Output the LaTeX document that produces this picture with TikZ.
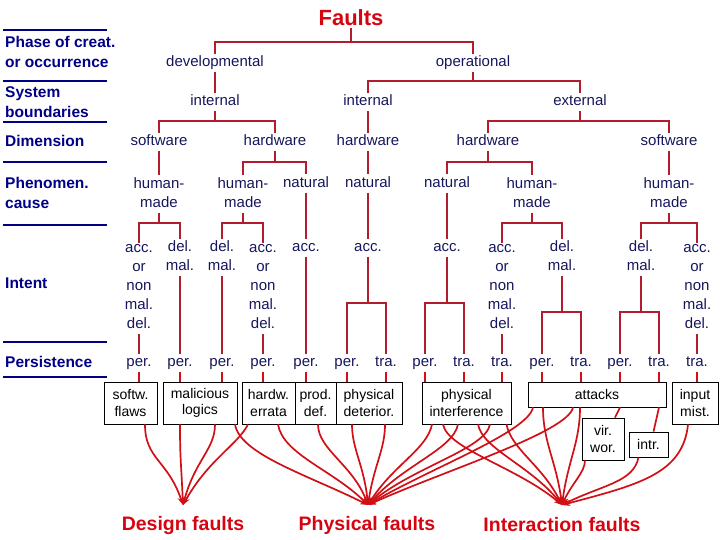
\documentclass[tikz,border=0pt]{standalone}
\usepackage{fontspec}
\setmainfont{Liberation Sans}
\usepackage{tikz}
\usetikzlibrary{arrows.meta,positioning,calc}

\definecolor{treered}{RGB}{178,28,44}
\definecolor{flowred}{RGB}{208,16,22}
\definecolor{headred}{RGB}{214,4,16}
\definecolor{labelink}{RGB}{22,22,92}
\definecolor{rowink}{RGB}{0,0,135}

% bracket from a parent down to two children, bar at height #4
\newcommand{\forkdown}[4]{%
  \draw[tree] (#1.south) -- (#1.south |- 0,#4);
  \draw[tree] (#2.north) |- (#3.north |- 0,#4) -- (#3.north);}

\begin{document}
\begin{tikzpicture}[
        x=1pt, y=-1pt,
        lvl/.style={font=\fontsize{15}{19}\selectfont, text=labelink, align=center, inner sep=2pt,
            execute at begin node={\rule{0pt}{11pt}}, execute at end node={\rule[-3.5pt]{0pt}{3.5pt}}},
        rowname/.style={anchor=west, align=left, inner sep=0pt, text=rowink,
            font=\fontsize{15.5}{20}\selectfont\bfseries},
        rowbar/.style={rowink, line width=2.6pt},
        tree/.style={treered, line width=1.2pt},
        classbox/.style={draw=black, fill=white, line width=0.8pt, align=center, inner sep=1pt,
            minimum height=42pt, font=\fontsize{14}{16.5}\selectfont},
        flow/.style={flowred, line width=1.7pt},
        flowarr/.style={flow, -{Stealth[length=8pt,width=6pt]}},
        head/.style={font=\fontsize{22}{24}\selectfont\bfseries, text=headred, inner sep=2pt},
        sinklabel/.style={font=\fontsize{19.5}{22}\selectfont\bfseries, text=headred, inner sep=2pt}
    ]
    \useasboundingbox (0,0) rectangle (720,540);

    % Row names on the left
    \foreach \yb in {30,81,122,162,225,342,377}
        \draw[rowbar] (3,\yb) -- (107,\yb);
    \node[rowname] (rphase) at (5,52) {Phase of creat.\\or occurrence};
    \node[rowname] (rsys) at (5,102.5) {System\\boundaries};
    \node[rowname] (rdim) at (5,141) {Dimension};
    \node[rowname] (rphen) at (5,192.5) {Phenomen.\\cause};
    \node[rowname] (rint) at (5,283) {Intent};
    \node[rowname] (rpers) at (5,362) {Persistence};

    % Tree
    \node[head] (faults) at (351,18) {Faults};
    \node[lvl] (dev) at (215,63) {developmental};
    \node[lvl] (oper) at (473,63) {operational};
    \forkdown{faults}{dev}{oper}{42}

    \node[lvl] (intdev) at (215,102) {internal};
    \node[lvl] (intop) at (368,102) {internal};
    \node[lvl] (extop) at (580,102) {external};
    \draw[tree] (dev) -- (intdev);
    \forkdown{oper}{intop}{extop}{81}

    \node[lvl] (swA) at (159,142) {software};
    \node[lvl] (hwA) at (275,142) {hardware};
    \node[lvl] (hwB) at (368,142) {hardware};
    \node[lvl] (hwC) at (488,142) {hardware};
    \node[lvl] (swB) at (669,142) {software};
    \forkdown{intdev}{swA}{hwA}{121}
    \draw[tree] (intop) -- (hwB);
    \forkdown{extop}{hwC}{swB}{121}

    \node[lvl, anchor=north] (hmA) at (159,175.5) {human-\\made};
    \node[lvl, anchor=north] (hmB) at (243,175.5) {human-\\made};
    \node[lvl, anchor=north] (natA) at (306,174.5) {natural};
    \node[lvl, anchor=north] (natB) at (368,174.5) {natural};
    \node[lvl, anchor=north] (natC) at (447,174.5) {natural};
    \node[lvl, anchor=north] (hmC) at (532,175.5) {human-\\made};
    \node[lvl, anchor=north] (hmD) at (669,175.5) {human-\\made};
    \draw[tree] (swA) -- (hmA);
    \forkdown{hwA}{hmB}{natA}{162}
    \draw[tree] (hwB) -- (natB);
    \forkdown{hwC}{natC}{hmC}{162}
    \draw[tree] (swB) -- (hmD);

    \node[lvl, anchor=north] (intA) at (139,242.5) {acc.\\or\\non\\mal.\\del.};
    \node[lvl, anchor=north] (intB) at (180,238.5) {del.\\mal.};
    \node[lvl, anchor=north] (intC) at (222,238.5) {del.\\mal.};
    \node[lvl, anchor=north] (intD) at (263,242.5) {acc.\\or\\non\\mal.\\del.};
    \node[lvl, anchor=north] (intE) at (306,238.5) {acc.};
    \node[lvl, anchor=north] (intF) at (368,238.5) {acc.};
    \node[lvl, anchor=north] (intG) at (447,238.5) {acc.};
    \node[lvl, anchor=north] (intH) at (502,242.5) {acc.\\or\\non\\mal.\\del.};
    \node[lvl, anchor=north] (intI) at (562,238.5) {del.\\mal.};
    \node[lvl, anchor=north] (intJ) at (641,238.5) {del.\\mal.};
    \node[lvl, anchor=north] (intK) at (697,242.5) {acc.\\or\\non\\mal.\\del.};
    \forkdown{hmA}{intA}{intB}{223}
    \forkdown{hmB}{intC}{intD}{223}
    \draw[tree] (natA) -- (intE);
    \draw[tree] (natB) -- (intF);
    \draw[tree] (natC) -- (intG);
    \forkdown{hmC}{intH}{intI}{223}
    \forkdown{hmD}{intJ}{intK}{223}

    \node[lvl] (lf1) at (139,363) {per.};
    \node[lvl] (lf2) at (180,363) {per.};
    \node[lvl] (lf3) at (222,363) {per.};
    \node[lvl] (lf4) at (263,363) {per.};
    \node[lvl] (lf5) at (306,363) {per.};
    \node[lvl] (lf6) at (347,363) {per.};
    \node[lvl] (lf7) at (386,363) {tra.};
    \node[lvl] (lf8) at (425,363) {per.};
    \node[lvl] (lf9) at (464,363) {tra.};
    \node[lvl] (lf10) at (502,363) {tra.};
    \node[lvl] (lf11) at (542,363) {per.};
    \node[lvl] (lf12) at (581,363) {tra.};
    \node[lvl] (lf13) at (620,363) {per.};
    \node[lvl] (lf14) at (659,363) {tra.};
    \node[lvl] (lf15) at (697,363) {tra.};
    \draw[tree] (intA) -- (lf1);
    \draw[tree] (intB) -- (lf2);
    \draw[tree] (intC) -- (lf3);
    \draw[tree] (intD) -- (lf4);
    \draw[tree] (intE) -- (lf5);
    \forkdown{intF}{lf6}{lf7}{303}
    \forkdown{intG}{lf8}{lf9}{303}
    \draw[tree] (intH) -- (lf10);
    \forkdown{intI}{lf11}{lf12}{312}
    \forkdown{intJ}{lf13}{lf14}{312}
    \draw[tree] (intK) -- (lf15);

    % Fault classes
    \node[classbox, minimum width=53pt] (flaws) at (130.5,403) {softw.\\flaws};
    \node[classbox, minimum width=74pt] (malic) at (200,403) {malicious\\logics};
    \node[classbox, minimum width=53pt] (errata) at (268.5,403) {hardw.\\errata};
    \node[classbox, minimum width=41pt] (proddef) at (315.5,403) {prod.\\def.};
    \node[classbox, minimum width=66pt] (deterior) at (369,403) {physical\\deterior.};
    \node[classbox, minimum width=89pt] (interf) at (466.5,403) {physical\\interference};
    \node[classbox, minimum width=138pt, minimum height=25pt] (attacks) at (597,394.5) {attacks};
    \node[classbox, minimum width=46pt] (inpmist) at (695,403) {input\\mist.};
    \node[classbox, minimum width=42pt] (virwor) at (603,439) {vir.\\wor.};
    \node[classbox, minimum width=39pt, minimum height=25pt] (intrus) at (648.5,444.5) {intr.};

    \draw[flow] (lf1) -- (lf1 |- flaws.north);
    \draw[flow] (lf2) -- (lf2 |- malic.north);
    \draw[flow] (lf3) -- (lf3 |- malic.north);
    \draw[flow] (lf4) -- (lf4 |- errata.north);
    \draw[flow] (lf5) -- (lf5 |- proddef.north);
    \draw[flow] (lf6) -- (lf6 |- deterior.north);
    \draw[flow] (lf7) -- (lf7 |- deterior.north);
    \draw[flow] (lf8) -- (lf8 |- interf.north);
    \draw[flow] (lf9) -- (lf9 |- interf.north);
    \draw[flow] (lf10) -- (lf10 |- interf.north);
    \draw[flow] (lf11) -- (lf11 |- attacks.north);
    \draw[flow] (lf12) -- (lf12 |- attacks.north);
    \draw[flow] (lf13) -- (lf13 |- attacks.north);
    \draw[flow] (lf14) -- (lf14 |- attacks.north);
    \draw[flow] (lf15) -- (lf15 |- inpmist.north);
    \draw[flow] (lf13 |- attacks.south) -- ([xshift=12pt]virwor.north);
    \draw[flow] (lf14 |- attacks.south) -- ([xshift=5pt]intrus.north);

    % The three groups
    \node[sinklabel] (design) at (183,525) {Design faults};
    \node[sinklabel] (physical) at (367,525) {Physical faults};
    \node[sinklabel] (interact) at (562,525) {Interaction faults};
    \coordinate (dtip) at (183,505);
    \coordinate (ptip) at (368,505);
    \coordinate (itip) at (562,505);

    \draw[flowarr] ([xshift=14.5pt]flaws.south) .. controls +(0,35) and +(-15,-45) .. (dtip);
    \draw[flowarr] ([xshift=-20pt]malic.south) .. controls +(0,35) and +(-2,-45) .. (dtip);
    \draw[flowarr] ([xshift=15pt]malic.south) .. controls +(0,25) and +(12,-45) .. (dtip);
    \draw[flowarr] ([xshift=-20.5pt]errata.south) .. controls +(-10,20) and +(25,-45) .. (dtip);

    \draw[flowarr] ([xshift=35pt]malic.south) .. controls +(5,30) and +(-60,-30) .. (ptip);
    \draw[flowarr] ([xshift=9.5pt]errata.south) .. controls +(5,30) and +(-35,-35) .. (ptip);
    \draw[flowarr] ([xshift=2.5pt]proddef.south) .. controls +(0,25) and +(-15,-40) .. (ptip);
    \draw[flowarr] ([xshift=-17pt]deterior.south) .. controls +(0,25) and +(-4,-40) .. (ptip);
    \draw[flowarr] ([xshift=16pt]deterior.south) .. controls +(0,25) and +(6,-40) .. (ptip);
    \draw[flowarr] ([xshift=-34.5pt]interf.south) .. controls +(-5,25) and +(25,-40) .. (ptip);
    \draw[flowarr] ([xshift=-8.5pt]interf.south) .. controls +(-5,25) and +(35,-40) .. (ptip);
    \draw[flowarr] ([xshift=23.5pt]interf.south) .. controls +(-5,25) and +(45,-38) .. (ptip);
    \draw[flowarr] ([xshift=-64pt]attacks.south) .. controls +(-5,25) and +(60,-36) .. (ptip);
    \draw[flowarr] ([xshift=-24pt]attacks.south) .. controls +(-5,25) and +(75,-34) .. (ptip);

    \draw[flowarr] ([xshift=-23.5pt]interf.south) .. controls +(5,25) and +(-45,-38) .. (itip);
    \draw[flowarr] ([xshift=11.5pt]interf.south) .. controls +(5,25) and +(-32,-40) .. (itip);
    \draw[flowarr] ([xshift=40pt]interf.south) .. controls +(5,25) and +(-20,-40) .. (itip);
    \draw[flowarr] ([xshift=-54pt]attacks.south) .. controls +(0,35) and +(-6,-45) .. (itip);
    \draw[flowarr] ([xshift=-17pt]attacks.south) .. controls +(0,35) and +(6,-45) .. (itip);
    \draw[flowarr] ([xshift=-18pt]virwor.south) .. controls +(0,12) and +(10,-22) .. (itip);
    \draw[flowarr] ([xshift=-10pt]intrus.south) .. controls +(-5,25) and +(40,-20) .. (itip);
    \draw[flowarr] ([xshift=-7pt]inpmist.south) .. controls +(-5,50) and +(75,-20) .. (itip);
\end{tikzpicture}
\end{document}
